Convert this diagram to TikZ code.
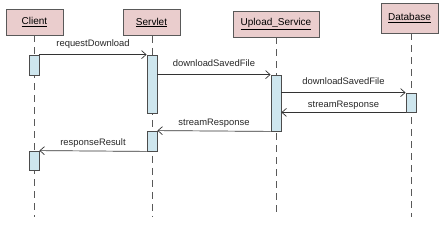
\documentclass[tikz,border=0pt]{standalone}
\usepackage{fontspec}
\setmainfont{Liberation Sans}
\usetikzlibrary{arrows.meta}

\definecolor{objpink}{RGB}{234,205,205}
\definecolor{barblue}{RGB}{206,230,238}

\begin{document}
\begin{tikzpicture}[
  x=1pt,
  y=-1pt,
  object/.style={
    draw=black!65,
    fill=objpink,
    line width=0.8pt,
    minimum height=26pt,
    inner sep=0pt,
    font=\fontsize{10}{12}\selectfont
  },
  actbar/.style={
    draw=black!70,
    fill=barblue,
    line width=0.8pt,
    minimum width=10pt,
    inner sep=0pt
  },
  lifeline/.style={draw=black!65, line width=0.8pt, dash pattern=on 7pt off 5pt},
  msg/.style={draw=black!80, line width=0.7pt, -{Straight Barb[length=4.5pt,width=8pt]}},
  calltext/.style={midway, anchor=base, yshift=8.5pt, inner sep=0pt, text=black!85, font=\fontsize{9.4}{11}\selectfont},
  backtext/.style={midway, anchor=base, yshift=5.3pt, inner sep=0pt, text=black!85, font=\fontsize{9.4}{11}\selectfont}
]
\useasboundingbox (0,0) rectangle (446,230);

% objects
\node[object, minimum width=57pt] (client)  at (34.5,22)  {\underline{Client}};
\node[object, minimum width=57pt] (servlet) at (151.5,22.5) {\underline{Servlet}};
\node[object, minimum width=86pt] (upload)  at (276,24)   {\underline{Upload\_Service}};
\node[object, minimum width=57pt, minimum height=30pt] (db) at (409.5,18) {\underline{Database}};

\coordinate (clientend)  at (34,217);
\coordinate (servletend) at (152,217);
\coordinate (uploadend)  at (276,217);
\coordinate (dbend)      at (411,217);

\draw[lifeline] (client.south -| clientend) -- (clientend);
\draw[lifeline] (servlet.south -| servletend) -- (servletend);
\draw[lifeline] (upload.south -| uploadend) -- (uploadend);
\draw[lifeline] (db.south -| dbend) -- (dbend);

% activations
\node[actbar, minimum height=20pt] (cbar1) at (34,65)    {};
\node[actbar, minimum height=58pt] (sbar1) at (152,84)   {};
\node[actbar, minimum height=56pt] (ubar)  at (276,103)  {};
\node[actbar, minimum height=19pt] (dbar)  at (411,102.5) {};
\node[actbar, minimum height=20pt] (sbar2) at (152,141)  {};
\node[actbar, minimum height=19pt] (cbar2) at (34,160.5) {};

% messages
\draw[msg] (cbar1.north east) -- (sbar1.north west) node[calltext] {requestDownload};
\draw[msg] (sbar1.east |- ubar.north) -- (ubar.north west) node[calltext] {downloadSavedFile};
\draw[msg] (ubar.east |- dbar.north) -- (dbar.north west) node[calltext] {downloadSavedFile};
\draw[msg] (dbar.south west) -- (ubar.east |- dbar.south) node[backtext] {streamResponse};
\draw[msg] (ubar.south west) -- (sbar2.north east) node[backtext] {streamResponse};
\draw[msg] (sbar2.south west) -- (cbar2.north east) node[backtext] {responseResult};

\end{tikzpicture}
\end{document}
